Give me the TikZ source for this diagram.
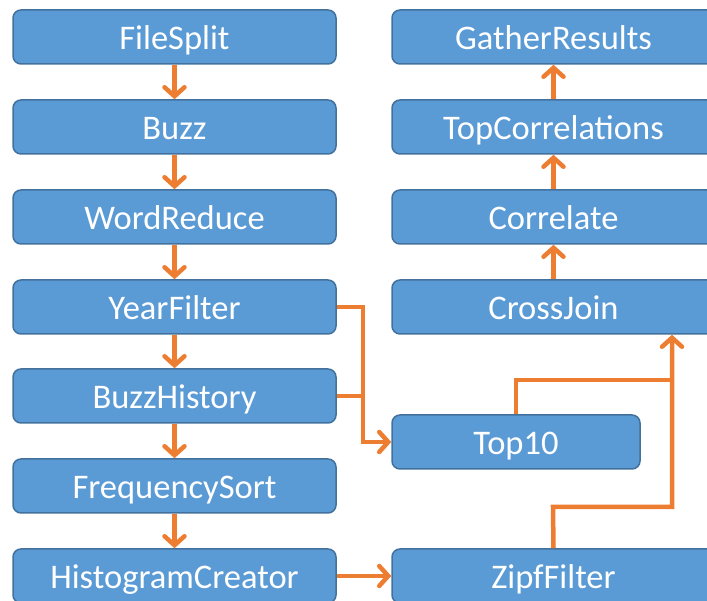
\documentclass[tikz,border=0pt]{standalone}
\usepackage{fontspec}
\setmainfont{Carlito}
\usetikzlibrary{arrows.meta}
\definecolor{boxfill}{HTML}{5B9BD5}
\definecolor{boxline}{HTML}{41719C}
\definecolor{flow}{HTML}{ED7D31}
\begin{document}
\begin{tikzpicture}[x=1pt,y=1pt,
  stage/.style={draw=boxline, line width=1.5pt, fill=boxfill, rounded corners=8pt,
    minimum width=323pt, minimum height=54pt, text=white, inner sep=0pt,
    text height=30pt, text depth=4pt,
    font=\fontsize{34.5}{40}\selectfont},
  flowline/.style={draw=flow, line width=4.5pt},
  flowarrow/.style={flowline, -{Straight Barb[length=9pt,width=20pt,line cap=round]}}]
\useasboundingbox (0,0) rectangle (707,601);
\clip (0,0) rectangle (707,601);
% left column
\node[stage] (filesplit) at (174.5,564) {FileSplit};
\node[stage] (buzz) at (174.5,474) {Buzz};
\node[stage] (wordreduce) at (174.5,384) {WordReduce};
\node[stage] (yearfilter) at (174.5,294) {YearFilter};
\node[stage] (buzzhistory) at (174.5,205) {BuzzHistory};
\node[stage] (freqsort) at (174.5,115) {FrequencySort};
\node[stage] (histogram) at (174.5,25) {HistogramCreator};
% right column
\node[stage] (gather) at (553.5,564) {GatherResults};
\node[stage] (topcorr) at (553.5,474) {TopCorrelations};
\node[stage] (correlate) at (553.5,384) {Correlate};
\node[stage] (crossjoin) at (553.5,294) {CrossJoin};
\node[stage, minimum width=248pt] (top10) at (516,159) {Top10};
\node[stage] (zipf) at (553.5,25) {ZipfFilter};
% connectors
\draw[flowarrow] (filesplit) -- (buzz);
\draw[flowarrow] (buzz) -- (wordreduce);
\draw[flowarrow] (wordreduce) -- (yearfilter);
\draw[flowarrow] (yearfilter) -- (buzzhistory);
\draw[flowarrow] (buzzhistory) -- (freqsort);
\draw[flowarrow] (freqsort) -- (histogram);
\draw[flowarrow] (histogram) -- (zipf);
\draw[flowarrow] (crossjoin) -- (correlate);
\draw[flowarrow] (correlate) -- (topcorr);
\draw[flowarrow] (topcorr) -- (gather);
\coordinate (bend) at (363,159);
\draw[flowarrow] (yearfilter.east) -| (bend) -- (top10.west);
\draw[flowline] (buzzhistory.east) -- (buzzhistory.east -| bend);
\coordinate (zipfturn) at (553,94);
\coordinate (riser) at (672,94);
\coordinate (merge) at (672,221);
\draw[flowarrow] (zipf.north) -- (zipfturn) -- (riser) -- (riser |- crossjoin.south);
\draw[flowline] (top10.north) |- (merge);
\end{tikzpicture}
\end{document}
